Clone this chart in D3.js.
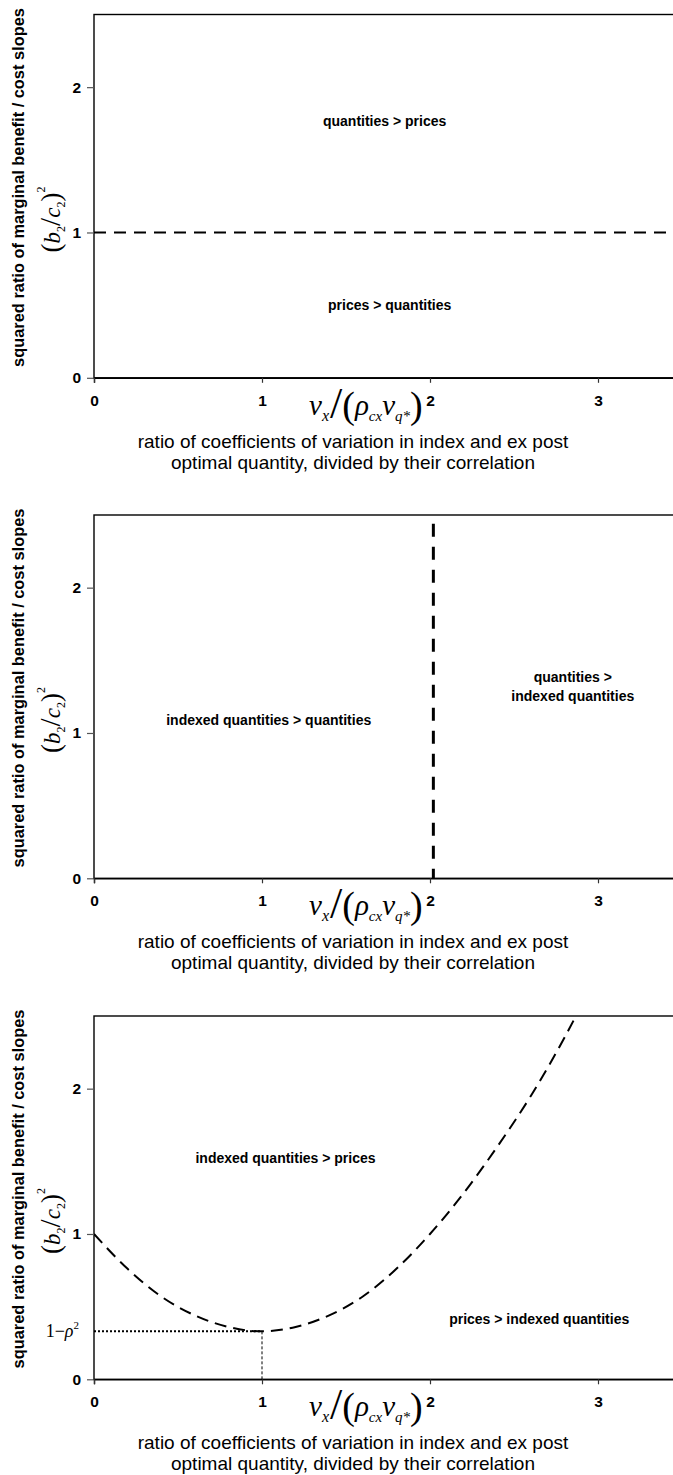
<!DOCTYPE html>
<html><head><meta charset="utf-8">
<script src="https://cdn.jsdelivr.net/npm/d3@7"></script>
<style>
html,body{margin:0;padding:0;background:#fff;overflow:hidden;}
svg{display:block;}
</style></head>
<body>
<svg id="chart" width="673" height="1475"></svg>
<script>
// ---- data ----
const xTicks = [0, 1, 2, 3];
const yTicks = [0, 1, 2];
const xDomain = [0, 3.5];
const yDomain = [0, 2.5];

// panel 1: horizontal boundary at (b2/c2)^2 = 1
const boundary1 = 1;
// panel 2: vertical boundary
const boundary2 = 2.02;
// panel 3: boundary curve
const curveX = [0, 0.2, 0.4, 0.6, 0.8, 1.0, 1.2, 1.4, 1.6, 1.8, 2.0, 2.2, 2.4, 2.6, 2.8, 2.9];
const curveY = [1.00, 0.76, 0.57, 0.44, 0.36, 0.33, 0.36, 0.44, 0.57, 0.76, 1.00, 1.28, 1.60, 1.95, 2.35, 2.57];
const minPoint = {x: 1, y: 0.33};

const xTitle = ["ratio of coefficients of variation in index and ex post",
                "optimal quantity, divided by their correlation"];
const yTitle = "squared ratio of marginal benefit / cost slopes";

const regionLabels = [
  [{t: ["quantities > prices"], x: 1.73, y: 1.77}, {t: ["prices > quantities"], x: 1.76, y: 0.50}],
  [{t: ["indexed quantities > quantities"], x: 1.04, y: 1.09}, {t: ["quantities >", "indexed quantities"], x: 2.85, y: 1.32}],
  [{t: ["indexed quantities > prices"], x: 1.14, y: 1.52}, {t: ["prices > indexed quantities"], x: 2.65, y: 0.415}]
];

// ---- layout ----
const panelTops = [14.5, 515, 1016];
const plotH = 363.3;
const left = 94, unitX = 168;

const svg = d3.select("#chart");
const x = d3.scaleLinear().domain(xDomain).range([left, left + unitX * (xDomain[1] - xDomain[0])]);

const sans = "'Liberation Sans', Arial, sans-serif";
const serif = "'Liberation Serif', 'Times New Roman', serif";

panelTops.forEach((top, pi) => {
  const y = d3.scaleLinear().domain(yDomain).range([top + plotH, top]);
  const g = svg.append("g");
  const clipId = "clip" + pi;
  g.append("clipPath").attr("id", clipId).append("rect")
    .attr("x", x(0)).attr("y", y(yDomain[1])).attr("width", x(xDomain[1]) - x(0)).attr("height", plotH);

  // frame
  g.append("rect").attr("x", x(0)).attr("y", y(yDomain[1]))
    .attr("width", x(xDomain[1]) - x(0)).attr("height", plotH)
    .attr("fill", "none").attr("stroke", "#000").attr("stroke-width", 1.4);

  // y axis ticks
  const yAxis = d3.axisLeft(y).tickValues(yTicks).tickSize(7).tickPadding(6).tickFormat(d3.format("d"));
  const ya = g.append("g").attr("transform", `translate(${x(0)},0)`).call(yAxis);
  ya.select(".domain").remove();
  ya.selectAll(".tick line").attr("stroke", "#555").attr("stroke-width", 1.2);
  ya.selectAll(".tick text").attr("font-family", sans).attr("font-weight", "bold").attr("font-size", 15.5).attr("fill", "#000");

  // x axis
  const xAxis = d3.axisBottom(x).tickValues(xTicks).tickSize(5).tickPadding(12).tickFormat(d3.format("d"));
  const xa = g.append("g").attr("transform", `translate(0,${y(0)})`).call(xAxis);
  xa.select(".domain").attr("stroke", "#000").attr("stroke-width", 1.4);
  xa.selectAll(".tick line").attr("stroke", "#333").attr("stroke-width", 1.2);
  xa.selectAll(".tick text").attr("font-family", sans).attr("font-weight", "bold").attr("font-size", 15.5).attr("fill", "#000");

  // boundary marks
  const pg = g.append("g").attr("clip-path", `url(#${clipId})`);
  if (pi === 0) {
    pg.append("line").attr("x1", x(0)).attr("x2", x(xDomain[1]))
      .attr("y1", y(boundary1)).attr("y2", y(boundary1))
      .attr("stroke", "#000").attr("stroke-width", 2).attr("stroke-dasharray", "12,8");
  } else if (pi === 1) {
    pg.append("line").attr("x1", x(boundary2)).attr("x2", x(boundary2))
      .attr("y1", y(2.44)).attr("y2", y(0))
      .attr("stroke", "#000").attr("stroke-width", 3).attr("stroke-dasharray", "13,10");
  } else {
    const pts = curveX.map((v, i) => [v, curveY[i]]);
    const line = d3.line().x(d => x(d[0])).y(d => y(d[1])).curve(d3.curveMonotoneX);
    pg.append("path").attr("d", line(pts)).attr("fill", "none")
      .attr("stroke", "#000").attr("stroke-width", 2).attr("stroke-dasharray", "12,7");
    // dotted guides
    g.append("line").attr("x1", x(0)).attr("x2", x(minPoint.x))
      .attr("y1", y(minPoint.y)).attr("y2", y(minPoint.y))
      .attr("stroke", "#000").attr("stroke-width", 2).attr("stroke-dasharray", "2,2");
    g.append("line").attr("x1", x(minPoint.x)).attr("x2", x(minPoint.x))
      .attr("y1", y(minPoint.y)).attr("y2", y(0))
      .attr("stroke", "#000").attr("stroke-width", 1).attr("stroke-dasharray", "3,2");
    // 1 - rho^2 label
    const t = g.append("text").attr("x", 79).attr("y", y(minPoint.y) + 6)
      .attr("text-anchor", "end").attr("font-family", serif).attr("font-size", 18);
    t.append("tspan").text("1\u2212");
    t.append("tspan").attr("font-style", "italic").text("\u03c1");
    t.append("tspan").attr("font-size", 11).attr("dy", -8).text("2");
  }

  // region labels
  regionLabels[pi].forEach(l => {
    const tt = g.append("text").attr("text-anchor", "middle")
      .attr("font-family", sans).attr("font-weight", "bold").attr("font-size", 14).attr("fill", "#000");
    l.t.forEach((s, k) => {
      tt.append("tspan").attr("x", x(l.x)).attr("y", y(l.y) + 5 + (k - (l.t.length - 1) / 2) * 19).text(s);
    });
  });

  // x math label  v_x / (rho_cx v_q*)
  const m = g.append("text").attr("x", 309).attr("y", y(0) + 37)
    .attr("font-family", serif).attr("fill", "#000");
  m.append("tspan").attr("font-size", 29).attr("font-style", "italic").text("v");
  m.append("tspan").attr("font-size", 16).attr("font-style", "italic").attr("dy", 6).text("x");
  m.append("tspan").attr("font-size", 44).attr("dy", -3).attr("dx", 1).text("/");
  m.append("tspan").attr("font-size", 38).attr("dy", 0).text("(");
  m.append("tspan").attr("font-size", 29).attr("font-style", "italic").attr("dy", -3).text("\u03c1");
  m.append("tspan").attr("font-size", 15).attr("font-style", "italic").attr("dy", 6).text("cx");
  m.append("tspan").attr("font-size", 29).attr("font-style", "italic").attr("dy", -6).text("v");
  m.append("tspan").attr("font-size", 15).attr("font-style", "italic").attr("dy", 6).text("q*");
  m.append("tspan").attr("font-size", 38).attr("dy", -3).text(")");

  // x title
  xTitle.forEach((s, k) => {
    g.append("text").attr("x", 353).attr("y", y(0) + 70 + k * 21)
      .attr("text-anchor", "middle").attr("font-family", sans).attr("font-size", 19).attr("fill", "#000").text(s);
  });

  // y title
  const cy = top + 173;
  g.append("text").attr("transform", `translate(24,${cy}) rotate(-90)`)
    .attr("text-anchor", "middle").attr("font-family", sans).attr("font-weight", "bold")
    .attr("font-size", 16.4).attr("fill", "#000").text(yTitle);

  // y math label (b2/c2)^2
  const ym = g.append("text").attr("transform", `translate(60,${top + 205}) rotate(-90)`)
    .attr("text-anchor", "middle").attr("font-family", serif).attr("fill", "#000");
  ym.append("tspan").attr("font-size", 27).text("(");
  ym.append("tspan").attr("font-size", 23).attr("font-style", "italic").text("b");
  ym.append("tspan").attr("font-size", 12).attr("dy", 5).text("2");
  ym.append("tspan").attr("font-size", 29).attr("dy", -5).text("/");
  ym.append("tspan").attr("font-size", 23).attr("font-style", "italic").text("c");
  ym.append("tspan").attr("font-size", 12).attr("dy", 5).text("2");
  ym.append("tspan").attr("font-size", 27).attr("dy", -5).text(")");
  ym.append("tspan").attr("font-size", 12).attr("dy", -15).text("2");
});
</script>
</body></html>
